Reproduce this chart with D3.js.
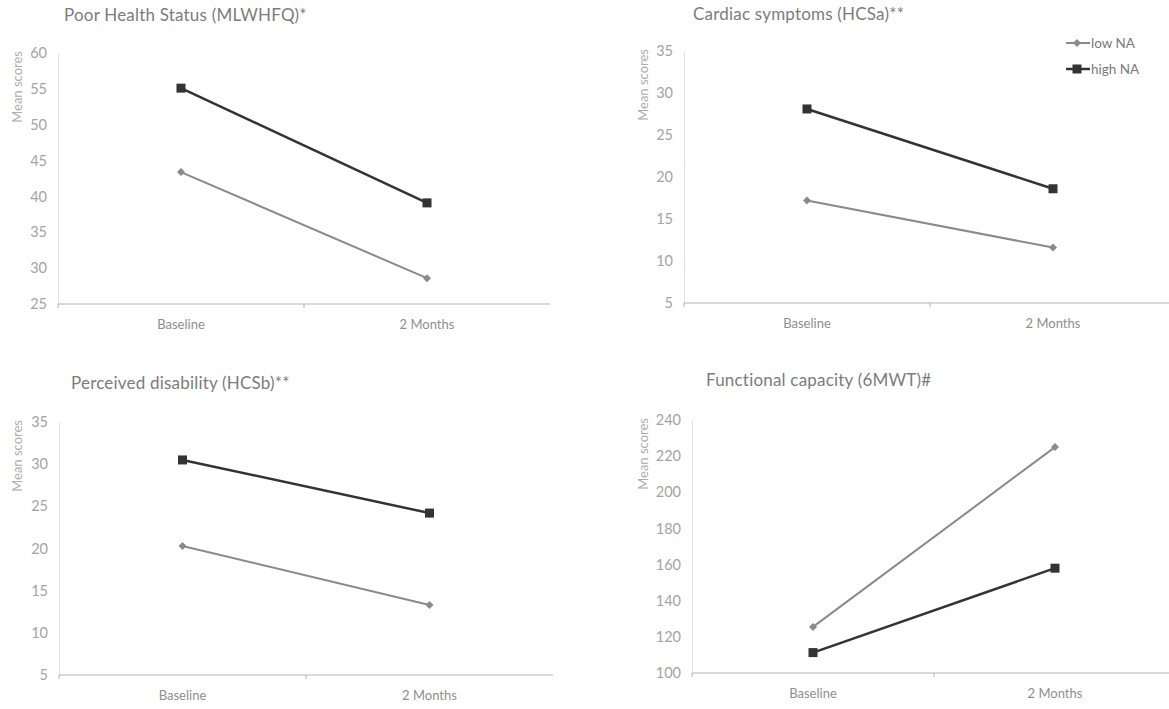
<!DOCTYPE html>
<html>
<head>
<meta charset="utf-8">
<script src="https://cdn.jsdelivr.net/npm/d3@7"></script>
<style>
  html, body { margin: 0; padding: 0; background: #fff; }
  svg { display: block; font-family: Lato, "Open Sans", sans-serif; }
</style>
</head>
<body>
<svg id="chart" width="1169" height="709"></svg>
<script>
// Time points shared by every panel
const categories = ["Baseline", "2 Months"];

// Panel titles
const titles = [
  "Poor Health Status (MLWHFQ)*",
  "Cardiac symptoms (HCSa)**",
  "Perceived disability (HCSb)**",
  "Functional capacity (6MWT)#"
];

// Mean scores per panel: [Baseline, 2 Months]
const lowNA  = [[43.4, 28.6], [17.2, 11.6], [20.3, 13.3], [125.5, 225]];
const highNA = [[55.1, 39.1], [28.1, 18.6], [30.5, 24.2], [111.3, 158]];

// Y axis ranges and tick values per panel
const yDomains = [[25, 60], [5, 35], [5, 35], [100, 240]];
const yTicks = [
  [25, 30, 35, 40, 45, 50, 55, 60],
  [5, 10, 15, 20, 25, 30, 35],
  [5, 10, 15, 20, 25, 30, 35],
  [100, 120, 140, 160, 180, 200, 220, 240]
];

const seriesNames = ["low NA", "high NA"];

// Plot frames for the 2x2 grid
const frames = [
  { left: 58,  right: 550,  top: 53,  bottom: 304, titleX: 64,  titleY: 21,  labelX: 22 },
  { left: 684, right: 1176, top: 51,  bottom: 303, titleX: 693, titleY: 20,  labelX: 648 },
  { left: 59,  right: 553,  top: 422, bottom: 675, titleX: 71,  titleY: 389, labelX: 22 },
  { left: 692, right: 1176, top: 420, bottom: 673, titleX: 706, titleY: 386, labelX: 648 }
];

const lowColor = "#8a8a8a";
const highColor = "#333333";

const svg = d3.select("#chart");

function diamond(g, x, y, r, color) {
  g.append("path")
    .attr("d", `M${x},${y - r}L${x + r},${y}L${x},${y + r}L${x - r},${y}Z`)
    .attr("fill", color);
}
function square(g, x, y, s, color) {
  g.append("rect")
    .attr("x", x - s / 2).attr("y", y - s / 2)
    .attr("width", s).attr("height", s)
    .attr("fill", color);
}

frames.forEach((f, i) => {
  const g = svg.append("g");

  const x = d3.scaleBand().domain(categories).range([f.left, f.right]);
  const y = d3.scaleLinear().domain(yDomains[i]).range([f.bottom, f.top]);

  // title
  g.append("text")
    .attr("x", f.titleX).attr("y", f.titleY)
    .attr("font-size", 17).attr("fill", "#7c7c7c")
    .attr("letter-spacing", 0.2)
    .text(titles[i]);

  // y axis
  const yAxis = d3.axisLeft(y).tickValues(yTicks[i]).tickSize(0).tickPadding(11);
  const ya = g.append("g").attr("transform", `translate(${f.left},0)`).call(yAxis);
  ya.select(".domain").attr("stroke", "#e2e2e2").attr("stroke-width", 1);
  ya.selectAll("text").attr("font-size", 14.5).attr("fill", "#a3a3a3")
    .attr("font-family", "Lato, 'Open Sans', sans-serif");

  // y axis label
  g.append("text")
    .attr("transform", `translate(${f.labelX},${f.top - 2}) rotate(-90)`)
    .attr("text-anchor", "end")
    .attr("font-size", 13).attr("fill", "#acacac")
    .text("Mean scores");

  // x axis line with ticks at the band boundaries
  g.append("line")
    .attr("x1", f.left).attr("x2", f.right)
    .attr("y1", f.bottom).attr("y2", f.bottom)
    .attr("stroke", "#b4b4b4").attr("stroke-width", 1);
  const bounds = [x.range()[0], x(categories[1])];
  g.selectAll(".xtick").data(bounds).enter().append("line")
    .attr("x1", d => d).attr("x2", d => d)
    .attr("y1", f.bottom).attr("y2", f.bottom + 4)
    .attr("stroke", "#b4b4b4");

  g.selectAll(".xlabel").data(categories).enter().append("text")
    .attr("x", d => x(d) + x.bandwidth() / 2)
    .attr("y", f.bottom + 25)
    .attr("text-anchor", "middle")
    .attr("font-size", 13).attr("fill", "#8e8e8e")
    .text(d => d);

  const line = d3.line()
    .x((d, j) => x(categories[j]) + x.bandwidth() / 2)
    .y(d => y(d));

  // low NA series
  g.append("path").datum(lowNA[i]).attr("d", line)
    .attr("fill", "none").attr("stroke", lowColor).attr("stroke-width", 2);
  lowNA[i].forEach((v, j) => diamond(g, x(categories[j]) + x.bandwidth() / 2, y(v), 4, lowColor));

  // high NA series
  g.append("path").datum(highNA[i]).attr("d", line)
    .attr("fill", "none").attr("stroke", highColor).attr("stroke-width", 2.5);
  highNA[i].forEach((v, j) => square(g, x(categories[j]) + x.bandwidth() / 2, y(v), 9, highColor));
});

// legend
const leg = svg.append("g");
const legItems = [
  { name: seriesNames[0], color: lowColor, y: 43, width: 2, marker: "diamond" },
  { name: seriesNames[1], color: highColor, y: 69, width: 2.5, marker: "square" }
];
legItems.forEach(it => {
  leg.append("line")
    .attr("x1", 1066).attr("x2", 1090)
    .attr("y1", it.y).attr("y2", it.y)
    .attr("stroke", it.color).attr("stroke-width", it.width);
  if (it.marker === "diamond") diamond(leg, 1077, it.y, 4, it.color);
  else square(leg, 1077, it.y, 9, it.color);
  leg.append("text")
    .attr("x", 1091).attr("y", it.y + 5)
    .attr("font-size", 13.5).attr("fill", "#7a7a7a")
    .text(it.name);
});
</script>
</body>
</html>
